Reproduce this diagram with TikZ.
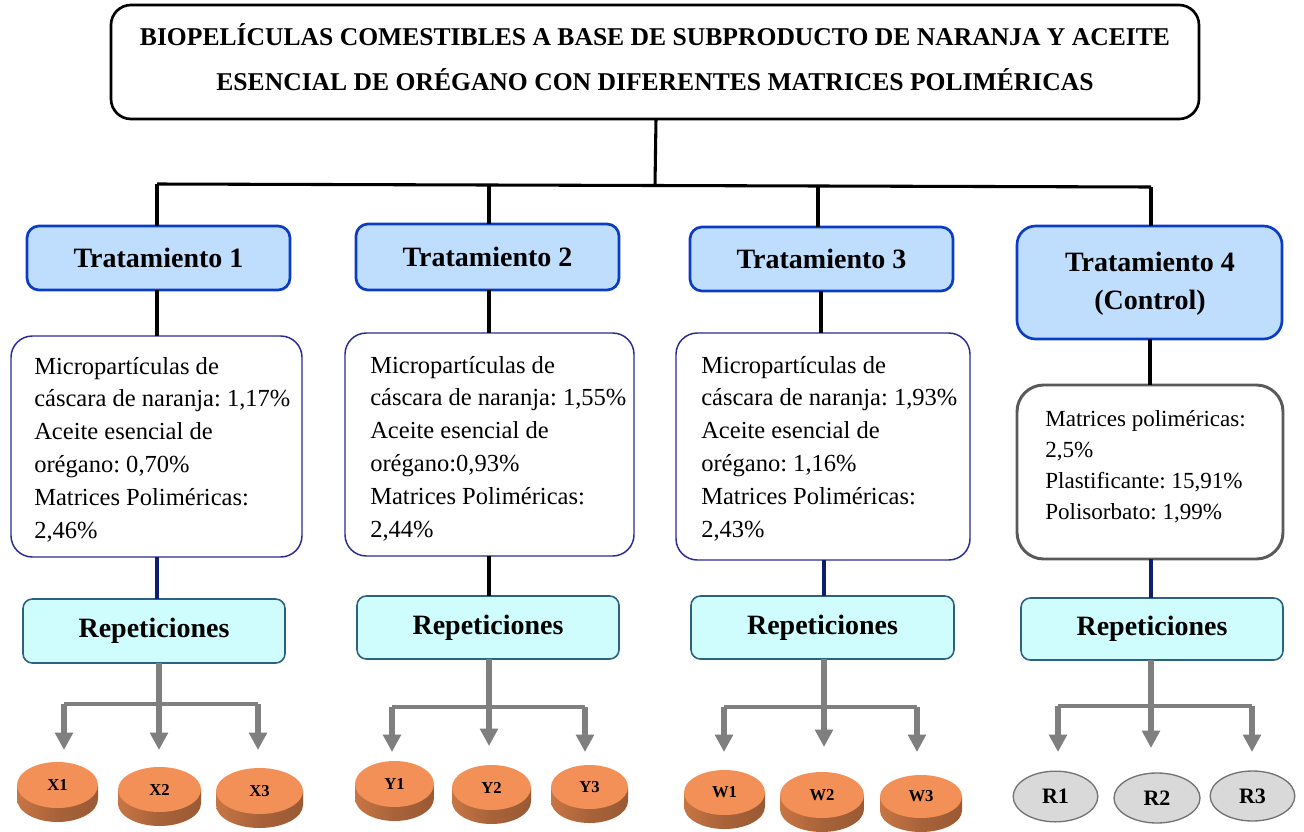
\documentclass[tikz,border=0pt]{standalone}
\usepackage{fontspec}
\setmainfont{Liberation Serif}
\usetikzlibrary{arrows.meta,shapes.geometric,calc}
\definecolor{tratfill}{HTML}{BFDEFD}
\definecolor{tratline}{HTML}{0B3CC4}
\definecolor{repfill}{HTML}{CFFDFE}
\definecolor{repline}{HTML}{2E6080}
\definecolor{infoline}{HTML}{2A2A96}
\definecolor{navyline}{HTML}{0A1F6E}
\definecolor{arrowgray}{HTML}{7F7F7F}
\definecolor{discfill}{HTML}{F39058}
\definecolor{discdark}{HTML}{9A5A34}
\definecolor{discmid}{HTML}{C87544}
\definecolor{ctrlfill}{HTML}{D9D9D9}
\tikzset{
  x=0.75pt,y=-0.75pt,
  titlebox/.style={draw=black,line width=2pt,rounded corners=15pt,fill=white},
  titletext/.style={inner sep=0pt,align=center,font=\bfseries\fontsize{19.2}{33.7}\selectfont},
  tratbox/.style={draw=tratline,line width=2pt,rounded corners=9pt,fill=tratfill,font=\bfseries\fontsize{21}{28.5}\selectfont,align=center},
  ctrlbox/.style={tratbox,rounded corners=14pt},
  ctrltext/.style={inner sep=0pt,align=center,font=\bfseries\fontsize{21}{28.5}\selectfont},
  infobox/.style={draw=infoline,line width=1.1pt,rounded corners=16pt,fill=white},
  infogray/.style={draw=black!65,line width=2.2pt,rounded corners=20pt,fill=white},
  infotext/.style={anchor=west,inner sep=0pt,align=left,font=\fontsize{18.4}{24.6}\selectfont},
  repbox/.style={draw=repline,line width=1.2pt,rounded corners=7pt,fill=repfill,font=\bfseries\fontsize{21}{24}\selectfont},
  disctop/.style={ellipse,fill=discfill,inner sep=0pt,font=\bfseries\fontsize{12.5}{14}\selectfont},
  ctrlell/.style={ellipse,draw=black!55,line width=1pt,fill=ctrlfill,inner sep=0pt,font=\bfseries\fontsize{16.5}{18}\selectfont},
  blackline/.style={draw=black,line width=2.3pt},
  navy/.style={draw=navyline,line width=2.3pt},
  trunk/.style={draw=arrowgray,line width=4pt},
  branch/.style={draw=arrowgray,line width=2.5pt},
  arrowtip/.style={draw=arrowgray,line width=3.8pt,-{Triangle[length=13pt,width=13pt]}},
}
\newcommand{\pxbox}[7][]{%
  \pgfmathsetlengthmacro{\bw}{(#5-#3)*0.75pt}%
  \pgfmathsetlengthmacro{\bh}{(#6-#4)*0.75pt}%
  \node[#2,minimum width=\bw,minimum height=\bh,inner sep=0pt,outer sep=0pt] (#1) at ({(#3+#5)/2},{(#4+#6)/2}) {#7};%
}
\newcommand{\pxdisc}[6]{%
  \pgfmathsetmacro{\cx}{(#2+#4)/2}%
  \pgfmathsetmacro{\cy}{(#3+#5-14)/2}%
  \pgfmathsetlengthmacro{\rx}{(#4-#2)*0.375pt}%
  \pgfmathsetlengthmacro{\ry}{(#5-#3-14)*0.375pt}%
  \path[left color=discmid,right color=discdark,middle color=discdark!85!discfill] (#2,\cy) -- ++(0,14) arc[start angle=180,end angle=360,x radius=\rx,y radius=\ry] -- ++(0,-14) -- cycle;%
  \node[disctop,minimum width=2*\rx,minimum height=2*\ry] (#1) at (\cx,\cy) {#6};%
}
\begin{document}
\begin{tikzpicture}
\frenchspacing
\useasboundingbox (0,0) rectangle (1304,832);
\fill[white] (0,0) rectangle (1304,832);

% Title
\pxbox[title]{titlebox}{111}{5}{1199}{119}{}
\node[titletext] (titlet) at (655,57.5) {BIOPELÍCULAS COMESTIBLES A BASE DE SUBPRODUCTO DE NARANJA Y ACEITE\\ESENCIAL DE ORÉGANO CON DIFERENTES MATRICES POLIMÉRICAS};

% Treatments
\pxbox[t1]{tratbox}{27}{226}{290}{290}{Tratamiento 1}
\pxbox[t2]{tratbox}{356}{224}{619}{290}{Tratamiento 2}
\pxbox[t3]{tratbox}{690}{227}{953}{291}{Tratamiento 3}
\pxbox[t4]{ctrlbox}{1017}{226}{1282}{339}{}
\node[ctrltext] (t4t) at (1150,284) {Tratamiento 4\\(Control)};

% Info boxes
\pxbox[m1]{infobox}{11}{336}{302}{557}{}
\pxbox[m2]{infobox}{345}{333}{634}{556}{}
\pxbox[m3]{infobox}{676}{333}{970}{560}{}
\pxbox[m4]{infogray}{1017}{385}{1283}{559}{}
\node[infotext] (i1) at (34,449.5) {Micropartículas de\\cáscara de naranja: 1,17\%\\Aceite esencial de\\orégano: 0,70\%\\Matrices Poliméricas:\\2,46\%};
\node[infotext] (i2) at (370,448.5) {Micropartículas de\\cáscara de naranja: 1,55\%\\Aceite esencial de\\orégano:0,93\%\\Matrices Poliméricas:\\2,44\%};
\node[infotext] (i3) at (701,448.5) {Micropartículas de\\cáscara de naranja: 1,93\%\\Aceite esencial de\\orégano: 1,16\%\\Matrices Poliméricas:\\2,43\%};
\node[infotext,font=\fontsize{17.3}{23.2}\selectfont] (i4) at (1045,466.5) {Matrices poliméricas:\\2,5\%\\Plastificante: 15,91\%\\Polisorbato: 1,99\%};

% Repetitions
\pxbox[r1]{repbox}{23}{599}{285}{663}{Repeticiones}
\pxbox[r2]{repbox}{357}{596}{619}{659}{Repeticiones}
\pxbox[r3]{repbox}{691}{596}{954}{659}{Repeticiones}
\pxbox[r4]{repbox}{1021}{598}{1283}{660}{\raisebox{-1.5pt}{Repeticiones}}

% Discs
\pxdisc{x1}{17}{762}{98}{822}{X1}
\pxdisc{x2}{118}{767}{201}{826}{X2}
\pxdisc{x3}{216}{768}{303}{828}{X3}
\pxdisc{y1}{355}{761}{434}{821}{Y1}
\pxdisc{y2}{452}{765}{531}{824}{Y2}
\pxdisc{y3}{551}{765}{628}{823}{Y3}
\pxdisc{w1}{684}{770}{765}{829}{W1}
\pxdisc{w2}{780}{772}{864}{832}{W2}
\pxdisc{w3}{880}{775}{962}{832}{W3}
\node[ctrlell,minimum width=63.5pt,minimum height=38pt] (c1) at (1055.5,796.5) {R1};
\node[ctrlell,minimum width=64.5pt,minimum height=37.5pt] (c2) at (1157,798) {R2};
\node[ctrlell,minimum width=63.5pt,minimum height=37.5pt] (c3) at (1252.5,796) {R3};

% Bus
\coordinate (hub) at (655,185.5);
\coordinate (busl) at (157,184);
\coordinate (busr) at (1151,187);
\coordinate (b2) at (489,185);
\coordinate (b3) at (818,186);
\draw[blackline] (title.south -| 656,0) -- (hub);
\draw[blackline] (busl) -- (busr);
\draw[blackline] (busl) -- (busl |- t1.north);
\draw[blackline] (b2) -- (b2 |- t2.north);
\draw[blackline] (b3) -- (b3 |- t3.north);
\draw[blackline] (busr) -- (busr |- t4.north);

% Treatment to info
\draw[blackline] (157,0 |- t1.south) -- (157,0 |- m1.north);
\draw[blackline] (489,0 |- t2.south) -- (489,0 |- m2.north);
\draw[blackline] (821,0 |- t3.south) -- (821,0 |- m3.north);
\draw[blackline] (1150,0 |- t4.south) -- (1150,0 |- m4.north);

% Info to repetitions
\draw[navy] (157,0 |- m1.south) -- (157,0 |- r1.north);
\draw[blackline] (489,0 |- m2.south) -- (489,0 |- r2.north);
\draw[navy] (824,0 |- m3.south) -- (824,0 |- r3.north);
\draw[navy] (1151,0 |- m4.south) -- (1151,0 |- r4.north);

% Arrow groups
\foreach \rn/\xl/\xm/\xr/\yb/\ye/\yf in {r1/64/159/258/704/750/750, r2/392/489/585/707/752/746, r3/724/824/917/707/752/747, r4/1058/1151/1252/706/752/748}{
  \coordinate (bl) at (\xl,\yb);
  \coordinate (br) at (\xr,\yb);
  \coordinate (bm) at (\xm,\yb);
  \draw[trunk] (\xm,0 |- \rn.south) -- (bm);
  \draw[branch] (bl) -- (br);
  \draw[arrowtip] (bl) -- (\xl,\ye);
  \draw[arrowtip] (br) -- (\xr,\ye);
  \draw[arrowtip] (bm) -- (\xm,\yf);
}
\end{tikzpicture}
\end{document}
